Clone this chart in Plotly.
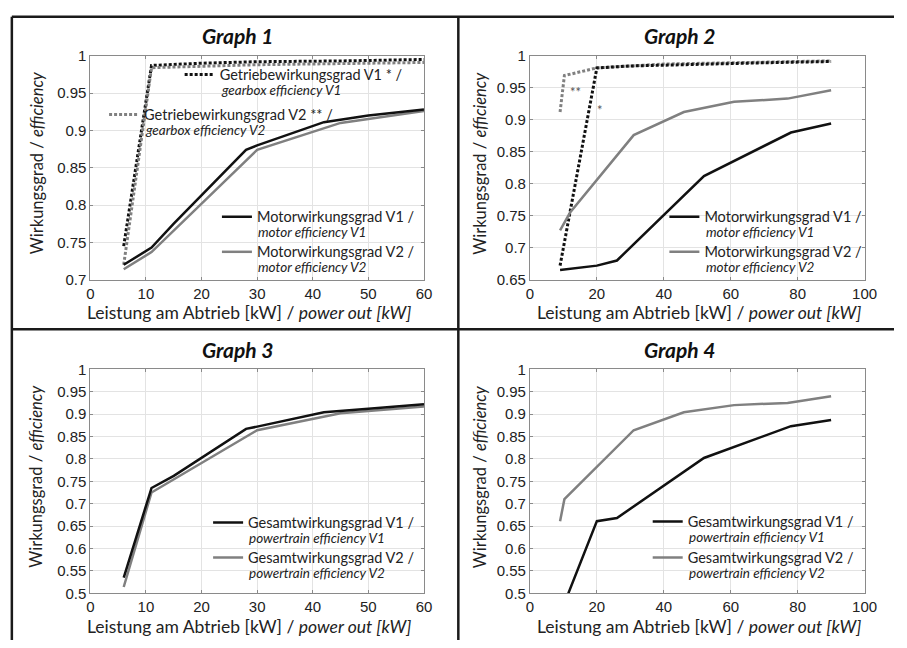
import plotly.graph_objects as go

W, H = 907, 648

# ---------------- data ----------------
# Graph 1
g1_gear_v1_x = [6, 11, 20, 30, 45, 60]
g1_gear_v1_y = [0.745, 0.987, 0.990, 0.992, 0.993, 0.995]
g1_gear_v2_x = [6, 11, 30, 60]
g1_gear_v2_y = [0.72, 0.984, 0.988, 0.991]
g1_motor_v1_x = [6, 11, 15, 28, 30, 42, 50, 60]
g1_motor_v1_y = [0.72, 0.743, 0.775, 0.874, 0.880, 0.911, 0.920, 0.928]
g1_motor_v2_x = [6, 11, 30, 45, 60]
g1_motor_v2_y = [0.714, 0.737, 0.874, 0.910, 0.926]

# Graph 2
g2_gear_v1_x = [9, 20, 30, 50, 70, 90]
g2_gear_v1_y = [0.672, 0.981, 0.984, 0.987, 0.989, 0.991]
g2_gear_v2_x = [9, 10.3, 20, 40, 90]
g2_gear_v2_y = [0.912, 0.969, 0.981, 0.987, 0.992]
g2_motor_v1_x = [9, 20, 26, 52, 78, 90]
g2_motor_v1_y = [0.665, 0.672, 0.680, 0.812, 0.880, 0.894]
g2_motor_v2_x = [9, 12, 31, 46, 61, 77, 90]
g2_motor_v2_y = [0.727, 0.755, 0.876, 0.912, 0.928, 0.933, 0.946]

# Graph 3
g3_v1_x = [6, 11, 15, 28, 30, 42, 50, 60]
g3_v1_y = [0.535, 0.735, 0.762, 0.867, 0.872, 0.904, 0.912, 0.922]
g3_v2_x = [6, 11, 30, 45, 60]
g3_v2_y = [0.514, 0.725, 0.864, 0.902, 0.917]

# Graph 4
g4_v1_x = [9, 20, 26, 52, 78, 90]
g4_v1_y = [0.453, 0.661, 0.668, 0.802, 0.873, 0.887]
g4_v2_x = [9, 10.3, 31, 46, 61, 77, 90]
g4_v2_y = [0.661, 0.710, 0.864, 0.904, 0.920, 0.925, 0.940]

# tick labels
x60_ticks = [0, 10, 20, 30, 40, 50, 60]
x60_labels = ["0", "10", "20", "30", "40", "50", "60"]
x100_ticks = [0, 20, 40, 60, 80, 100]
x100_labels = ["0", "20", "40", "60", "80", "100"]
y1_ticks = [0.7, 0.75, 0.8, 0.85, 0.9, 0.95, 1.0]
y1_labels = ["0.7", "0.75", "0.8", "0.85", "0.9", "0.95", "1"]
y2_ticks = [0.65, 0.7, 0.75, 0.8, 0.85, 0.9, 0.95, 1.0]
y2_labels = ["0.65", "0.7", "0.75", "0.8", "0.85", "0.9", "0.95", "1"]
y34_ticks = [0.5, 0.55, 0.6, 0.65, 0.7, 0.75, 0.8, 0.85, 0.9, 0.95, 1.0]
y34_labels = ["0.5", "0.55", "0.6", "0.65", "0.7", "0.75", "0.8", "0.85", "0.9", "0.95", "1"]

titles = ["Graph 1", "Graph 2", "Graph 3", "Graph 4"]
x_title = "Leistung am Abtrieb [kW] / <i>power out [kW]</i>"
y_title = "Wirkungsgrad / <i>efficiency</i>"

# legend texts: (German first line, English italic second line)
lg_gear_v1 = ("Getriebewirkungsgrad V1 * /", "gearbox efficiency V1")
lg_gear_v2 = ("Getriebewirkungsgrad V2 ** /", "gearbox efficiency V2")
lg_motor_v1 = ("Motorwirkungsgrad V1 /", "motor efficiency V1")
lg_motor_v2 = ("Motorwirkungsgrad V2 /", "motor efficiency V2")
lg_total_v1 = ("Gesamtwirkungsgrad V1 /", "powertrain efficiency V1")
lg_total_v2 = ("Gesamtwirkungsgrad V2 /", "powertrain efficiency V2")

BLACK = "#111111"
GRAY = "#808080"
TXT = "#222222"
DOT = "3px,2px"


def px_x(p):
    return p / W


def px_y(p):
    return 1 - p / H


fig = go.Figure()


def line(x, y, ax, color, dash, lg=None, leg=None):
    fig.add_trace(go.Scatter(
        x=x, y=y, mode="lines", xaxis="x" + ax, yaxis="y" + ax,
        line=dict(color=color, width=3 if dash else 2.5, dash=dash),
        name=lg[0] if lg else None, showlegend=lg is not None,
        legend=leg if leg else "legend"))


# Graph 1
line(g1_gear_v1_x, g1_gear_v1_y, "", BLACK, DOT, lg_gear_v1, "legend")
line(g1_gear_v2_x, g1_gear_v2_y, "", GRAY, DOT, lg_gear_v2, "legend2")
line(g1_motor_v2_x, g1_motor_v2_y, "", GRAY, None, lg_motor_v2, "legend4")
line(g1_motor_v1_x, g1_motor_v1_y, "", BLACK, None, lg_motor_v1, "legend3")
# Graph 2
line(g2_gear_v2_x, g2_gear_v2_y, "2", GRAY, DOT)
line(g2_gear_v1_x, g2_gear_v1_y, "2", BLACK, DOT)
line(g2_motor_v2_x, g2_motor_v2_y, "2", GRAY, None, lg_motor_v2, "legend6")
line(g2_motor_v1_x, g2_motor_v1_y, "2", BLACK, None, lg_motor_v1, "legend5")
# Graph 3
line(g3_v2_x, g3_v2_y, "3", GRAY, None, lg_total_v2, "legend8")
line(g3_v1_x, g3_v1_y, "3", BLACK, None, lg_total_v1, "legend7")
# Graph 4
line(g4_v2_x, g4_v2_y, "4", GRAY, None, lg_total_v2, "legend10")
line(g4_v1_x, g4_v1_y, "4", BLACK, None, lg_total_v1, "legend9")


def axis(dom, rng, tv, tt, anchor):
    return dict(domain=dom, range=rng, tickvals=tv, ticktext=tt, anchor=anchor,
                showline=True, linecolor="#8a8a8a", linewidth=1, mirror="ticks",
                ticks="inside", ticklen=3, tickcolor="#8a8a8a",
                showgrid=True, gridcolor="#e3e3e3", gridwidth=1, zeroline=False,
                tickfont=dict(family="Liberation Sans", size=15, color=TXT),
                fixedrange=True)


xl = [px_x(88), px_x(428)]
xr = [px_x(536), px_x(877)]
yt = [px_y(278), px_y(48)]
yb = [px_y(600), px_y(370)]

LEG_DY = 15  # legend top to first-line centre
SUB_DY = 17  # first line to italic second line


def legend(sx, cy):
    # sx: left of the line sample, cy: centre of the legend line
    return dict(x=px_x(sx - 5), y=px_y(cy - LEG_DY), xanchor="left", yanchor="top",
                bgcolor="rgba(0,0,0,0)", borderwidth=0,
                font=dict(family="Lato", size=14.5, color=TXT), itemwidth=30)


# (sample left, centre y, subtitle text)
legend_items = {
    "legend": (184, 66, lg_gear_v1[1]),
    "legend2": (107, 107, lg_gear_v2[1]),
    "legend3": (222, 212, lg_motor_v1[1]),
    "legend4": (222, 248, lg_motor_v2[1]),
    "legend5": (678, 212, lg_motor_v1[1]),
    "legend6": (678, 248, lg_motor_v2[1]),
    "legend7": (213, 526, lg_total_v1[1]),
    "legend8": (213, 562, lg_total_v2[1]),
    "legend9": (661, 525, lg_total_v1[1]),
    "legend10": (661, 562, lg_total_v2[1]),
}

fig.update_layout(
    width=W, height=H, margin=dict(l=0, r=0, t=0, b=0),
    paper_bgcolor="white", plot_bgcolor="white",
    xaxis=axis(xl, [0, 60], x60_ticks, x60_labels, "y"),
    yaxis=axis(yt, [0.7, 1.0], y1_ticks, y1_labels, "x"),
    xaxis2=axis(xr, [0, 100], x100_ticks, x100_labels, "y2"),
    yaxis2=axis(yt, [0.65, 1.0], y2_ticks, y2_labels, "x2"),
    xaxis3=axis(xl, [0, 60], x60_ticks, x60_labels, "y3"),
    yaxis3=axis(yb, [0.5, 1.0], y34_ticks, y34_labels, "x3"),
    xaxis4=axis(xr, [0, 100], x100_ticks, x100_labels, "y4"),
    yaxis4=axis(yb, [0.5, 1.0], y34_ticks, y34_labels, "x4"),
    **{k: legend(v[0], v[1]) for k, v in legend_items.items()},
)

# italic English second lines of the legend entries
for k, (sx, cy, sub) in legend_items.items():
    fig.add_annotation(xref="paper", yref="paper", x=px_x(sx + 35), y=px_y(cy + SUB_DY),
                       text=f"<i>{sub}</i>", showarrow=False, xanchor="left", yanchor="middle",
                       font=dict(family="Lato", size=13.5, color=TXT))

# panel frame lines
frame = dict(color="#1a1a1a", width=2.5)
fig.add_shape(type="line", xref="paper", yref="paper", x0=px_x(8), x1=1, y0=px_y(8), y1=px_y(8), line=frame)
fig.add_shape(type="line", xref="paper", yref="paper", x0=px_x(8), x1=px_x(8), y0=0, y1=px_y(8), line=frame)
fig.add_shape(type="line", xref="paper", yref="paper", x0=px_x(463), x1=px_x(463), y0=0, y1=px_y(8), line=frame)
fig.add_shape(type="line", xref="paper", yref="paper", x0=px_x(8), x1=1, y0=px_y(329), y1=px_y(329), line=frame)

# titles
title_pos = [(238, 27), (688, 27), (238, 350), (688, 350)]
for t, (cx, cy) in zip(titles, title_pos):
    fig.add_annotation(xref="paper", yref="paper", x=px_x(cx), y=px_y(cy), text=f"<b><i>{t}</i></b>",
                       showarrow=False, xanchor="center", yanchor="middle",
                       font=dict(family="Lato", size=21, color="#111"))

# axis titles
xt_pos = [(250, 312), (708, 312), (250, 634), (708, 634)]
for cx, cy in xt_pos:
    fig.add_annotation(xref="paper", yref="paper", x=px_x(cx), y=px_y(cy), text=x_title,
                       showarrow=False, xanchor="center", yanchor="middle",
                       font=dict(family="Lato", size=17.5, color=TXT))
yt_pos = [(33, 158), (485, 158), (33, 480), (485, 480)]
for cx, cy in yt_pos:
    fig.add_annotation(xref="paper", yref="paper", x=px_x(cx), y=px_y(cy), text=y_title,
                       showarrow=False, xanchor="center", yanchor="middle", textangle=-90,
                       font=dict(family="Lato", size=16.5, color=TXT))

# asterisks in graph 2
fig.add_annotation(xref="x2", yref="y2", x=13.5, y=0.944, text="**", showarrow=False,
                   font=dict(family="Lato", size=13, color="#555"))
fig.add_annotation(xref="x2", yref="y2", x=21, y=0.915, text="*", showarrow=False,
                   font=dict(family="Lato", size=13, color="#555"))

fig.write_html("out.html", config={"displayModeBar": False},
               post_script="document.body.style.margin='0px';document.body.style.overflow='hidden';")
